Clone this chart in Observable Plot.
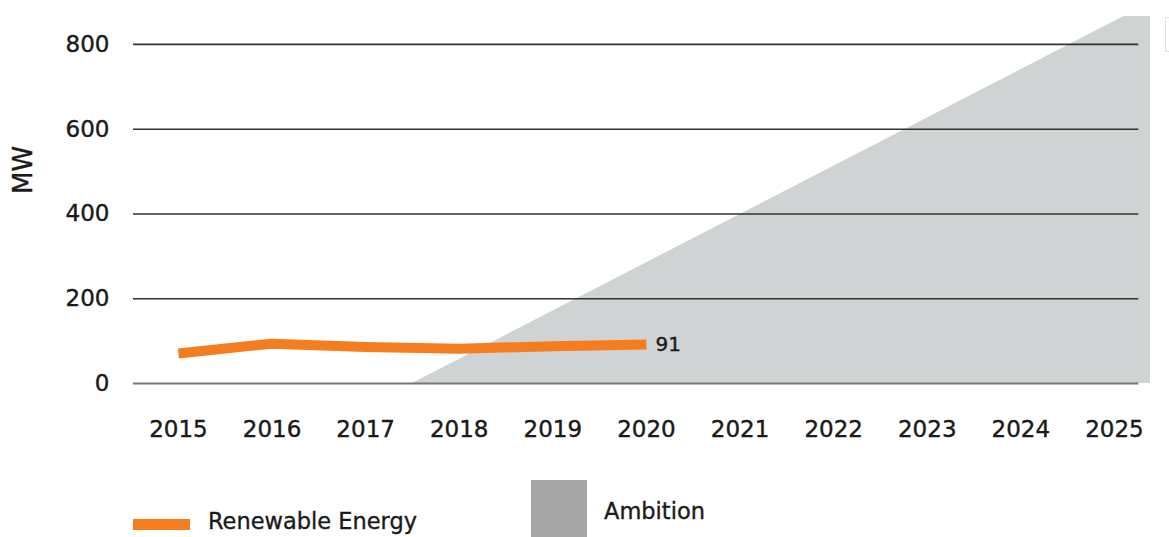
<!DOCTYPE html>
<html>
<head>
<meta charset="utf-8">
<script src="https://cdn.jsdelivr.net/npm/d3@7"></script>
<script src="https://cdn.jsdelivr.net/npm/@observablehq/plot@0.6"></script>
<style>
  html, body { margin: 0; padding: 0; background: #fff; }
  #wrap { position: relative; width: 1169px; height: 537px; overflow: hidden; font-family: "DejaVu Sans", sans-serif; color: #1a1a1a; }
  #chart svg { display: block; }
  #chart svg text { stroke: #1a1a1a; stroke-width: 0.4px; }
  .leg { position: absolute; }
  .legtxt { position: absolute; font-size: 22.5px; line-height: 22px; white-space: nowrap; -webkit-text-stroke: 0.35px #1a1a1a; }
  #edgebox { position: absolute; left: 1165px; top: 17px; width: 12px; height: 35px; border: 1px solid #e2e2e2; box-sizing: border-box; }
</style>
</head>
<body>
<div id="wrap">
  <div id="chart"></div>
  <div class="leg" style="left:133px; top:519px; width:57px; height:11px; background:#f47d20;"></div>
  <div class="legtxt" style="left:208px; top:510px;">Renewable Energy</div>
  <div class="leg" style="left:531px; top:480px; width:56px; height:60px; background:#a6a6a6;"></div>
  <div class="legtxt" style="left:604px; top:500px;">Ambition</div>
  <div id="edgebox"></div>
</div>
<script>
// ---- data ----
const years = [2015, 2016, 2017, 2018, 2019, 2020];
const renewable = [71, 94, 86, 82, 88, 92];
const endLabel = "91";
const ambitionYears = [2017.5, 2025.4];
const ambitionValues = [0, 900];
const yTicks = [0, 200, 400, 600, 800];
const xTicks = [2015, 2016, 2017, 2018, 2019, 2020, 2021, 2022, 2023, 2024, 2025];
const xDomain = [2014.52, 2025.385];
const yDomain = [0, 866];
const gridFrom = 2014.52;
const gridTo = 2025.26;
const yLabel = "MW";

// ---- tables ----
const renew = years.map((y, i) => ({year: y, value: renewable[i]}));
const ambition = ambitionYears.map((y, i) => ({year: y, value: ambitionValues[i]}));
const last = renew[renew.length - 1];

const chart = Plot.plot({
  width: 1169,
  height: 460,
  marginLeft: 133,
  marginRight: 19,
  marginTop: 16,
  marginBottom: 77,
  style: {fontFamily: "DejaVu Sans, sans-serif", fontSize: "23px", color: "#1a1a1a", background: "white"},
  x: {domain: xDomain},
  y: {domain: yDomain},
  marks: [
    Plot.areaY(ambition, {x: "year", y: "value", fill: "#cfd3d3", clip: true}),
    Plot.ruleY(yTicks.filter(d => d !== 0), {y: d => d, x1: gridFrom, x2: gridTo, stroke: "#333", strokeWidth: 1.7}),
    Plot.ruleY([0], {y: d => d, x1: gridFrom, x2: gridTo, stroke: "#777", strokeWidth: 2}),
    Plot.lineY(renew, {x: "year", y: "value", stroke: "#f47d20", strokeWidth: 10, strokeLinecap: "butt", strokeLinejoin: "round"}),
    Plot.text([last], {x: "year", y: "value", text: () => endLabel, textAnchor: "start", dx: 9, fontSize: 20, fill: "#1a1a1a"}),
    Plot.axisX(xTicks, {tickSize: 0, tickPadding: 37, tickFormat: d => String(d), label: null}),
    Plot.axisY(yTicks, {tickSize: 0, tickPadding: 24, label: null}),
    Plot.text([yLabel], {frameAnchor: "left", text: d => d, rotate: -90, dx: -110, dy: -6, fontSize: 26, fill: "#1a1a1a"})
  ]
});
document.getElementById("chart").appendChild(chart);
</script>
</body>
</html>
